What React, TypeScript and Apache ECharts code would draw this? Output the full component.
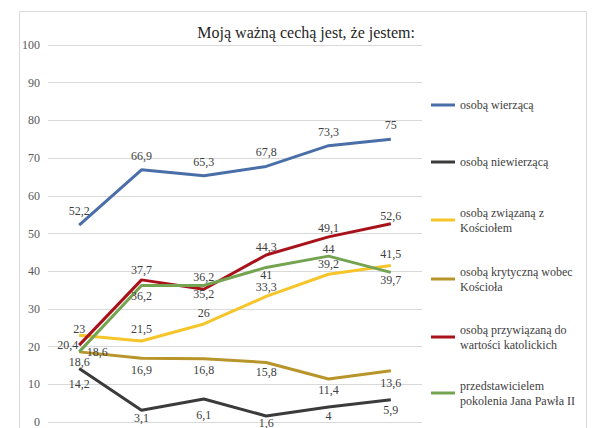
import React, { useEffect, useRef } from "react";
import * as echarts from "echarts";

const categories = ["1", "2", "3", "4", "5", "6"];
const seriesNames = [
  "osobą wierzącą",
  "osobą niewierzącą",
  "osobą związaną z\nKościołem",
  "osobą krytyczną wobec\nKościoła",
  "osobą przywiązaną do\nwartości katolickich",
  "przedstawicielem\npokolenia Jana Pawła II",
];
const wierzaca = [52.2, 66.9, 65.3, 67.8, 73.3, 75];
const niewierzaca = [14.2, 3.1, 6.1, 1.6, 4, 5.9];
const zwiazana = [23, 21.5, 26, 33.3, 39.2, 41.5];
const krytyczna = [18.6, 16.9, 16.8, 15.8, 11.4, 13.6];
const przywiazana = [20.4, 37.7, 35.2, 44.3, 49.1, 52.6];
const pokolenie = [18.6, 36.2, 36.2, 41, 44, 39.7];
const yTicks = [0, 10, 20, 30, 40, 50, 60, 70, 80, 90, 100];
const title = "Moją ważną cechą jest, że jestem:";

// label placement (style)
const A = "top", B = "bottom", L = "left", R = "right";
const labelPos = [
  [A, A, A, A, A, A],
  [B, B, B, B, B, B],
  [A, A, A, A, A, A],
  [B, B, B, B, B, B],
  [L, A, B, A, A, A],
  [R, B, A, B, A, B],
];
const labelDist = [
  [8, 8, 8, 8, 8, 8],
  [10, 2, 10, 1.5, 3.5, 4.5],
  [0, 6, 5, 3, 4.5, 6],
  [4, 6, 5.5, 3.5, 5, 6],
  [1, 3.5, -1, 1.5, 2.5, 2],
  [7.5, 4.5, 2.5, 2, 1.5, 2],
];
const colors = ["#4a6ea8", "#3b3b3b", "#f5c52a", "#b8952a", "#a8121a", "#74a352"];
const legendCenters = [105, 162, 220, 279, 337, 393];

const FONT = "Liberation Serif";
const LH = 15;

export default function App() {
  const ref = useRef<HTMLDivElement>(null);
  useEffect(() => {
    const chart = echarts.init(ref.current!, null, { renderer: "svg" });
    const allData = [wierzaca, niewierzaca, zwiazana, krytyczna, przywiazana, pokolenie];
    const fmt = (v: number) => String(v).replace(".", ",");
    const series = allData.map((vals, si) => ({
      name: seriesNames[si],
      type: "line",
      symbol: "circle",
      symbolSize: 0.01,
      showSymbol: true,
      lineStyle: { width: 3, color: colors[si] },
      itemStyle: { color: colors[si] },
      data: vals.map((v, i) => ({
        value: v,
        label: {
          show: true,
          position: labelPos[si][i],
          distance: labelDist[si][i],
        },
      })),
      label: {
        show: true,
        fontFamily: FONT,
        fontSize: 12,
        color: "#404040",
        formatter: (p: any) => fmt(p.value),
      },
      labelLayout: { hideOverlap: false },
      z: 2 + si,
    }));
    const legends = seriesNames.map((n, i) => {
      const two = n.includes("\n");
      return {
        data: [n],
        orient: "vertical",
        left: 431,
        top: legendCenters[i] - (two ? LH * 1.5 : LH / 2),
        padding: 0,
        icon: "rect",
        itemWidth: 24,
        itemHeight: 3,
        itemGap: 5,
        selectedMode: false,
        textStyle: {
          fontFamily: FONT,
          fontSize: 12,
          color: "#404040",
          lineHeight: LH,
          padding: two ? [LH, 0, 0, 0] : 0,
        },
      };
    });
    chart.setOption({
      animation: false,
      backgroundColor: "#ffffff",
      title: {
        text: title,
        right: 185,
        top: 24,
        padding: 0,
        textStyle: { fontFamily: FONT, fontSize: 16, fontWeight: "normal", color: "#1f1f1f" },
      },
      legend: legends,
      graphic: [
        {
          type: "rect",
          shape: { x: 19.5, y: 11.5, width: 567, height: 440 },
          style: { fill: "none", stroke: "#d9d9d9", lineWidth: 1 },
          silent: true,
        },
      ],
      grid: { left: 48, right: 178, top: 45, bottom: 6, containLabel: false },
      xAxis: {
        type: "category",
        data: categories,
        boundaryGap: true,
        axisLine: { show: false },
        axisTick: { show: false },
        axisLabel: { show: false },
      },
      yAxis: {
        type: "value",
        min: yTicks[0],
        max: yTicks[yTicks.length - 1],
        interval: 10,
        axisLine: { show: false },
        axisTick: { show: false },
        axisLabel: { margin: 8, fontFamily: FONT, fontSize: 12, color: "#595959" },
        splitLine: { lineStyle: { color: "#d9d9d9", width: 1 } },
      },
      series,
    });
    return () => chart.dispose();
  }, []);
  return (
    <div
      ref={ref}
      style={{ position: "fixed", left: 0, top: 0, width: 600, height: 428, background: "#fff" }}
    />
  );
}
